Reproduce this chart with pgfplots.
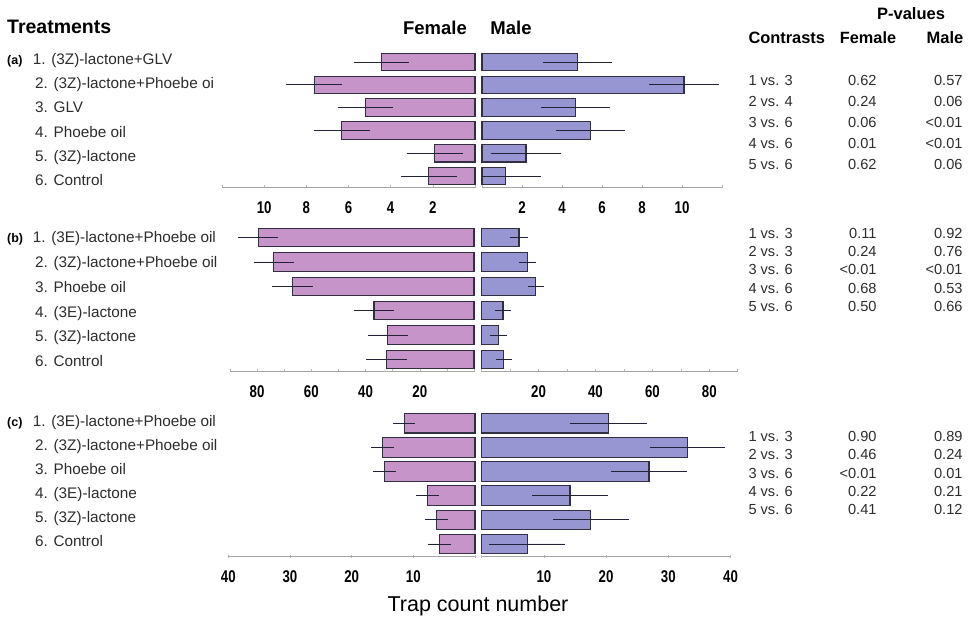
\documentclass[border=0pt]{standalone}
\usepackage{fontspec}
\setmainfont{Liberation Sans}
\usepackage{pgfplots}
\pgfplotsset{compat=1.18}
\definecolor{fem}{RGB}{198,148,200}
\definecolor{mal}{RGB}{151,150,211}
\definecolor{edgec}{RGB}{50,48,64}
\definecolor{errc}{RGB}{35,35,55}
\definecolor{txt}{RGB}{45,45,45}

\pgfplotsset{
  panel/.style={
    scale only axis, anchor=south west,
    axis x line=bottom, axis y line=none,
    axis line style={-, draw=gray!70, line width=0.8pt},
    ytick=\empty, y dir=reverse, ymin=0.5,
    xmin=0,
    xtick align=center, major tick length=3pt,
    tick style={draw=gray!55, line width=0.5pt},
    xticklabel style={font=\fontsize{17}{17}\selectfont\bfseries, xscale=0.78, anchor=center, yshift=-19pt},
    /pgf/number format/assume math mode=true,
    clip=false,
  },
  femp/.style={panel, x dir=reverse},
  barF/.style={xbar, bar shift=0pt, fill=fem, draw=edgec, line width=1.1pt,
    error bars/.cd, x dir=both, x explicit, error mark=none,
    error bar style={draw=errc, line width=0.8pt}},
  barM/.style={xbar, bar shift=0pt, fill=mal, draw=edgec, line width=1.1pt,
    error bars/.cd, x dir=both, x explicit, error mark=none,
    error bar style={draw=errc, line width=0.8pt}},
}

\begin{document}
\begin{tikzpicture}
\path[use as bounding box] (0pt,0pt) rectangle (968pt,618pt);

% ---------------- Panel (a) ----------------
\begin{axis}[femp, at={(222pt,431pt)}, width=253pt, height=136.4pt,
  xmax=12, ymax=6.48, xtick={0,2,...,12}, xticklabels={,2,4,6,8,10,}]
\addplot[bar width=17.5pt, barF] coordinates {
 (4.43,1) +- (1.30,0)
 (7.62,2) +- (1.33,0)
 (5.20,3) +- (1.30,0)
 (6.33,4) +- (1.33,0)
 (1.90,5) +- (1.33,0)
 (2.19,6) +- (1.32,0)
};
\end{axis}
\begin{axis}[panel, at={(482pt,431pt)}, width=240pt, height=136.4pt,
  xmax=12, ymax=6.48, xtick={0,2,...,12}, xticklabels={,2,4,6,8,10,}]
\addplot[bar width=17.5pt, barM] coordinates {
 (4.78,1) +- (1.73,0)
 (10.10,2) +- (1.73,0)
 (4.67,3) +- (1.73,0)
 (5.43,4) +- (1.74,0)
 (2.20,5) +- (1.76,0)
 (1.18,6) += (1.75,0) -= (1.18,0)
};
\end{axis}

% ---------------- Panel (b) ----------------
\begin{axis}[femp, at={(230pt,247pt)}, width=244pt, height=145.5pt,
  xmax=90, ymax=6.48, xtick={0,10,...,90}, xticklabels={,,20,,40,,60,,80,}]
\addplot[bar width=18.5pt, barF] coordinates {
 (79.6,1) +- (7.40,0)
 (73.8,2) +- (7.50,0)
 (66.9,3) +- (7.50,0)
 (36.9,4) +- (7.45,0)
 (31.8,5) +- (7.45,0)
 (32.2,6) +- (7.55,0)
};
\end{axis}
\begin{axis}[panel, at={(481.7pt,247pt)}, width=256pt, height=145.5pt,
  xmax=90, ymax=6.48, xtick={0,10,...,90}, xticklabels={,,20,,40,,60,,80,}]
\addplot[bar width=18.5pt, barM] coordinates {
 (13.1,1) +- (3.15,0)
 (16.0,2) +- (3.00,0)
 (19.0,3) +- (2.90,0)
 (7.5,4) +- (2.95,0)
 (6.0,5) +- (3.00,0)
 (7.8,6) +- (2.95,0)
};
\end{axis}

% ---------------- Panel (c) ----------------
\begin{axis}[femp, at={(228.3pt,62pt)}, width=246.7pt, height=144.8pt,
  xmax=40, ymax=6.5, xtick={0,10,20,30,40}, xticklabels={,10,20,30,40}]
\addplot[bar width=19.5pt, barF] coordinates {
 (11.5,1) +- (1.80,0)
 (15.0,2) +- (1.80,0)
 (14.7,3) +- (1.85,0)
 (7.7,4) +- (1.90,0)
 (6.3,5) +- (1.85,0)
 (5.8,6) +- (1.85,0)
};
\end{axis}
\begin{axis}[panel, at={(481.7pt,62pt)}, width=248.8pt, height=144.8pt,
  xmax=40, ymax=6.5, xtick={0,10,20,30,40}, xticklabels={,10,20,30,40}]
\addplot[bar width=19.5pt, barM] coordinates {
 (20.35,1) +- (6.15,0)
 (33.1,2) +- (6.00,0)
 (26.9,3) +- (6.15,0)
 (14.2,4) +- (6.05,0)
 (17.5,5) +- (6.10,0)
 (7.3,6) +- (6.05,0)
};
\end{axis}

% ---------------- Headers ----------------
\node[anchor=base west, font=\fontsize{19.5}{20}\selectfont\bfseries, inner sep=0pt] at (7pt,584.5pt) {Treatments};
\node[anchor=base, font=\fontsize{18.5}{20}\selectfont\bfseries, inner sep=0pt] at (435pt,583pt) {Female};
\node[anchor=base, font=\fontsize{18.5}{20}\selectfont\bfseries, inner sep=0pt] at (511pt,583pt) {Male};
\node[anchor=base, font=\fontsize{16.5}{18}\selectfont\bfseries, inner sep=0pt] at (911pt,598.7pt) {P-values};
\node[anchor=base west, font=\fontsize{16.4}{18}\selectfont\bfseries, inner sep=0pt] at (748.3pt,574.7pt) {Contrasts};
\node[anchor=base, font=\fontsize{16.3}{18}\selectfont\bfseries, inner sep=0pt] at (868pt,574.7pt) {Female};
\node[anchor=base, font=\fontsize{16.5}{18}\selectfont\bfseries, inner sep=0pt] at (945pt,574.7pt) {Male};

% panel letters
\node[anchor=base west, font=\fontsize{12.5}{13}\selectfont\bfseries, inner sep=0pt] at (7pt,553.7pt) {(a)};
\node[anchor=base west, font=\fontsize{12.5}{13}\selectfont\bfseries, inner sep=0pt] at (7pt,375pt) {(b)};
\node[anchor=base west, font=\fontsize{12.5}{13}\selectfont\bfseries, inner sep=0pt] at (7pt,191.5pt) {(c)};

% treatment labels (a)
\begin{scope}[every node/.style={anchor=base west, font=\fontsize{15.3}{17}\selectfont, text=txt, inner sep=0pt}]
\node at (32.7pt,553.7pt) {1. (3Z)-lactone+GLV};
\node at (35pt,529.4pt) {2. (3Z)-lactone+Phoebe oi};
\node at (35pt,505.1pt) {3. GLV};
\node at (35pt,480.8pt) {4. Phoebe oil};
\node at (35pt,456.5pt) {5. (3Z)-lactone};
\node at (35pt,432.2pt) {6. Control};
% (b)
\node at (32.7pt,375pt) {1. (3E)-lactone+Phoebe oil};
\node at (35pt,350.3pt) {2. (3Z)-lactone+Phoebe oil};
\node at (35pt,325.6pt) {3. Phoebe oil};
\node at (35pt,300.9pt) {4. (3E)-lactone};
\node at (35pt,276.2pt) {5. (3Z)-lactone};
\node at (35pt,251.5pt) {6. Control};
% (c)
\node at (32.7pt,191.5pt) {1. (3E)-lactone+Phoebe oil};
\node at (35pt,167.5pt) {2. (3Z)-lactone+Phoebe oil};
\node at (35pt,143.5pt) {3. Phoebe oil};
\node at (35pt,119.5pt) {4. (3E)-lactone};
\node at (35pt,95.5pt) {5. (3Z)-lactone};
\node at (35pt,71.5pt) {6. Control};
\end{scope}

% P-value tables
\begin{scope}[every node/.style={font=\fontsize{14.6}{16}\selectfont, text=txt, inner sep=0pt}]
% (a)
\node[anchor=base west] at (748.3pt,532pt) {1 vs. 3};
\node[anchor=base west] at (748.3pt,511pt) {2 vs. 4};
\node[anchor=base west] at (748.3pt,490pt) {3 vs. 6};
\node[anchor=base west] at (748.3pt,469pt) {4 vs. 6};
\node[anchor=base west] at (748.3pt,448pt) {5 vs. 6};
\node[anchor=base east] at (876.7pt,532pt) {0.62};
\node[anchor=base east] at (876.7pt,511pt) {0.24};
\node[anchor=base east] at (876.7pt,490pt) {0.06};
\node[anchor=base east] at (876.7pt,469pt) {0.01};
\node[anchor=base east] at (876.7pt,448pt) {0.62};
\node[anchor=base east] at (962.7pt,532pt) {0.57};
\node[anchor=base east] at (962.7pt,511pt) {0.06};
\node[anchor=base east] at (962.7pt,490pt) {<0.01};
\node[anchor=base east] at (962.7pt,469pt) {<0.01};
\node[anchor=base east] at (962.7pt,448pt) {0.06};
% (b)
\node[anchor=base west] at (748.3pt,379.7pt) {1 vs. 3};
\node[anchor=base west] at (748.3pt,361.3pt) {2 vs. 3};
\node[anchor=base west] at (748.3pt,343pt) {3 vs. 6};
\node[anchor=base west] at (748.3pt,324.6pt) {4 vs. 6};
\node[anchor=base west] at (748.3pt,306.3pt) {5 vs. 6};
\node[anchor=base east] at (876.7pt,379.7pt) {0.11};
\node[anchor=base east] at (876.7pt,361.3pt) {0.24};
\node[anchor=base east] at (876.7pt,343pt) {<0.01};
\node[anchor=base east] at (876.7pt,324.6pt) {0.68};
\node[anchor=base east] at (876.7pt,306.3pt) {0.50};
\node[anchor=base east] at (962.7pt,379.7pt) {0.92};
\node[anchor=base east] at (962.7pt,361.3pt) {0.76};
\node[anchor=base east] at (962.7pt,343pt) {<0.01};
\node[anchor=base east] at (962.7pt,324.6pt) {0.53};
\node[anchor=base east] at (962.7pt,306.3pt) {0.66};
% (c)
\node[anchor=base west] at (748.3pt,176.3pt) {1 vs. 3};
\node[anchor=base west] at (748.3pt,158pt) {2 vs. 3};
\node[anchor=base west] at (748.3pt,139.7pt) {3 vs. 6};
\node[anchor=base west] at (748.3pt,121.4pt) {4 vs. 6};
\node[anchor=base west] at (748.3pt,103.1pt) {5 vs. 6};
\node[anchor=base east] at (876.7pt,176.3pt) {0.90};
\node[anchor=base east] at (876.7pt,158pt) {0.46};
\node[anchor=base east] at (876.7pt,139.7pt) {<0.01};
\node[anchor=base east] at (876.7pt,121.4pt) {0.22};
\node[anchor=base east] at (876.7pt,103.1pt) {0.41};
\node[anchor=base east] at (962.7pt,176.3pt) {0.89};
\node[anchor=base east] at (962.7pt,158pt) {0.24};
\node[anchor=base east] at (962.7pt,139.7pt) {0.01};
\node[anchor=base east] at (962.7pt,121.4pt) {0.21};
\node[anchor=base east] at (962.7pt,103.1pt) {0.12};
\end{scope}

% x-axis title
\node[anchor=base, font=\fontsize{21.5}{23}\selectfont, inner sep=0pt] at (478pt,6.3pt) {Trap count number};
\end{tikzpicture}
\end{document}
